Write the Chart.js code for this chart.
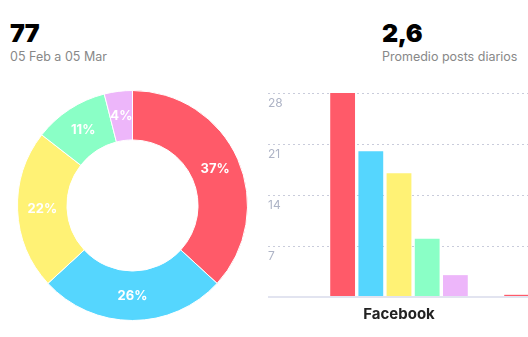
<!DOCTYPE html>
<html>
<head>
<meta charset="utf-8">
<script src="https://cdn.jsdelivr.net/npm/chart.js@4/dist/chart.umd.min.js"></script>
<style>
  html, body { margin: 0; padding: 0; background: #fff; }
  body { width: 528px; height: 337px; overflow: hidden; position: relative; font-family: Inter, "Noto Sans", sans-serif; }
  .kpi { position: absolute; top: 18px; }
  .kpi .num { font-size: 25px; font-weight: 900; color: #000; line-height: 30px; letter-spacing: -0.5px; }
  .kpi .sub { font-size: 12.5px; color: #888; line-height: 16px; margin-top: 1px; }
  #pie-wrap { position: absolute; left: 17px; top: 90px; width: 231px; height: 231px; }
  #bar-wrap { position: absolute; left: 268px; top: 80px; width: 392px; height: 251px; }
</style>
</head>
<body>
<div class="kpi" style="left:10px"><div class="num">77</div><div class="sub">05 Feb a 05 Mar</div></div>
<div class="kpi" style="left:382px"><div class="num">2,6</div><div class="sub">Promedio posts diarios</div></div>
<div id="pie-wrap"><canvas id="pie"></canvas></div>
<div id="bar-wrap"><canvas id="bar"></canvas></div>
<script>
// data
const networks = ['Facebook', 'Instagram'];
const seriesNames = ['Tipo 1', 'Tipo 2', 'Tipo 3', 'Tipo 4', 'Tipo 5'];
const seriesColors = ['#ff5a69', '#55d6fe', '#fff275', '#8affc6', '#edb6fa'];
const serie1 = [28, 0.3];
const serie2 = [20, 0];
const serie3 = [17, 0];
const serie4 = [8, 0];
const serie5 = [3, 0];
const yTicks = [0, 7, 14, 21, 28];

const allSeries = [serie1, serie2, serie3, serie4, serie5];
const pieValues = allSeries.map(s => s[0]);
const pieTotal = pieValues.reduce((a, b) => a + b, 0);

// draws the % inside each ring slice
const pctLabels = {
    id: 'pctLabels',
    afterDatasetsDraw(chart) {
        const ctx = chart.ctx;
        const meta = chart.getDatasetMeta(0);
        ctx.save();
        ctx.fillStyle = '#fff';
        ctx.font = '700 13px Inter, "Noto Sans", sans-serif';
        ctx.textAlign = 'center';
        ctx.textBaseline = 'middle';
        meta.data.forEach((arc, i) => {
            const p = arc.tooltipPosition();
            const pct = Math.round(pieValues[i] / pieTotal * 100);
            ctx.fillText(pct + '%', p.x, p.y);
        });
        ctx.restore();
    }
};

new Chart(document.getElementById('pie'), {
    type: 'doughnut',
    data: {
        labels: seriesNames,
        datasets: [{
            data: pieValues,
            backgroundColor: seriesColors,
            borderColor: '#fff',
            borderWidth: 1
        }]
    },
    options: {
        responsive: true,
        maintainAspectRatio: false,
        animation: false,
        cutout: '57%',
        plugins: { legend: { display: false }, tooltip: { enabled: false } }
    },
    plugins: [pctLabels]
});

const gridColor = '#c9ccdb';
const baseColor = '#e2e4f0';
const isZero = ctx => ctx.tick && ctx.tick.value === 0;

new Chart(document.getElementById('bar'), {
    type: 'bar',
    data: {
        labels: networks,
        datasets: allSeries.map((s, i) => ({
            label: seriesNames[i],
            data: s,
            backgroundColor: seriesColors[i],
            borderWidth: 0
        }))
    },
    options: {
        responsive: true,
        maintainAspectRatio: false,
        animation: false,
        layout: { padding: { top: 13, left: 0, right: 0, bottom: 0 } },
        datasets: { bar: { categoryPercentage: 0.81, barPercentage: 0.88 } },
        plugins: { legend: { display: false }, tooltip: { enabled: false } },
        scales: {
            x: {
                grid: { display: false, drawTicks: false },
                border: { display: true, color: baseColor, width: 2 },
                ticks: {
                    color: '#222',
                    padding: 8,
                    font: { family: 'Inter, "Noto Sans", sans-serif', size: 15, weight: '700' }
                }
            },
            y: {
                min: yTicks[0],
                max: yTicks[yTicks.length - 1],
                afterFit(scale) { scale.width = 44; },
                afterBuildTicks(scale) { scale.ticks = yTicks.map(v => ({ value: v })); },
                border: {
                    display: false,
                    dash: ctx => isZero(ctx) ? [] : [2, 3]
                },
                grid: {
                    color: ctx => isZero(ctx) ? baseColor : gridColor,
                    tickColor: ctx => isZero(ctx) ? baseColor : gridColor,
                    tickBorderDash: ctx => isZero(ctx) ? [] : [2, 3],
                    lineWidth: ctx => isZero(ctx) ? 2 : 1,
                    tickWidth: ctx => isZero(ctx) ? 2 : 1,
                    tickLength: 44,
                    drawTicks: true
                },
                ticks: {
                    crossAlign: 'far',
                    labelOffset: 10,
                    color: '#aeb4c6',
                    font: { family: 'Inter, "Noto Sans", sans-serif', size: 12 },
                    callback: v => v === 0 ? '' : v
                }
            }
        }
    }
});
</script>
</body>
</html>
